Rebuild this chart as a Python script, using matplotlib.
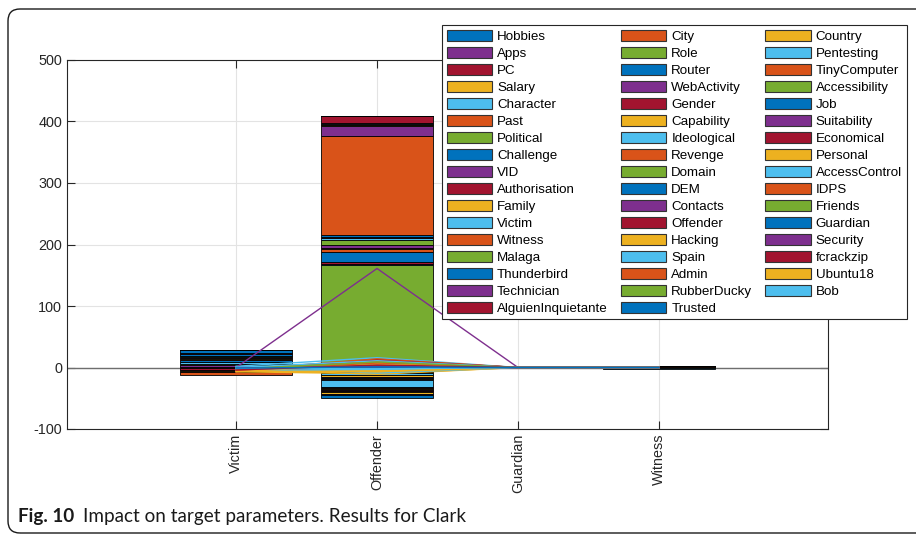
import matplotlib
matplotlib.use("Agg")
import matplotlib.pyplot as plt
import numpy as np
from matplotlib.patches import Patch, FancyBboxPatch
from matplotlib.transforms import IdentityTransform

# ---------------- data ----------------
categories = ["Victim", "Offender", "Guardian", "Witness"]

names = ["Hobbies", "City", "Country", "Apps", "Role", "Pentesting", "PC", "Router",
         "TinyComputer", "Salary", "WebActivity", "Accessibility", "Character", "Gender",
         "Job", "Past", "Capability", "Suitability", "Political", "Ideological",
         "Economical", "Challenge", "Revenge", "Personal", "VID", "Domain", "AccessControl",
         "Authorisation", "DEM", "IDPS", "Family", "Contacts", "Friends", "Victim",
         "Offender", "Guardian", "Witness", "Hacking", "Security", "Malaga", "Spain",
         "fcrackzip", "Thunderbird", "Admin", "Ubuntu18", "Technician", "RubberDucky",
         "Bob", "AlguienInquietante", "Trusted"]

# stacked bar values (one entry per series)
victim_vals = [1.5, 0, 0, 3, 2, 3, -4, 2, 2, 2,
               2, 2, 0, -1.5, 2, 0, -2, 2, 0, 0,
               0, 5.5, -4.5, 0, 0, 0, 0, 0, 0, 0,
               0, 0, 0, 0, 0, 0, 0, 0, 0, 0,
               0, 0, 0, 0, 0, 0, 0, 0, 0, 0]
offender_vals = [-2, -1.5, -2, -2, 166, 3, 3, 15, 5, 3,
                 4, 9, 3, 2, 3, 161, -2, 16, 1, -2,
                 -1.5, 1, 1, -2, -2, 0, 1.5, 11, -2, -2,
                 0, 0, 0, -10, 0, -2, -2, -2, -2, 0,
                 0, -1.5, 0, 0, -2, -2, 0, 0, 0, -5.5]
guardian_vals = [0, 0, 0, 0, 0, 0, 0, 0, 0, 0,
                 0, 0, 0, 0, 0, 0, 0, 0, 0, 0,
                 0, 0, 0, 0, 0, 0, 0, 0, 0, 0,
                 0, 0, 0, 0, 0, 1, 0, 0, 0, 0,
                 0, 0, 1, 0, 0, 0, 0, 0, 0, 0]
witness_vals = [0, 0, 0, 0, 0, 0, 0, 0, 0, 0,
                0, 0, 0, 0, 0, 0, 0, 0, 0, 0,
                0, 0, 0, 0, 0, 0, 0, 0, 0, 0,
                1, 0, 0, 0, -1, 0, 1.5, 0, 0, 0,
                -1, 0, 0, 0, 0, 0, 0, 0, 0, 0]

# overlaid line values (one entry per series)
line_victim = [-2, -6, 1, 0, -3, 2, -5, -1, -4, -7,
               -2, -3, 1, -6, -1, -4, -5, 0, -2, -3,
               -7, -1, -5, -3, 0, -2, 1, -4, -1, -6,
               -3, -2, -1, -5, -4, 0, -2, -6, -3, -1,
               0, -4, -2, -5, -7, -1, -3, -2, -4, -1]
line_offender = [6, 12, -8, 3, 9, 16, 11, 2, 14, -10,
                 5, 7, -4, 10, 0, 13, -6, 4, 8, 1,
                 12, -2, 9, -11, 161, 6, -9, 3, 5, 10,
                 -5, 2, 7, -3, 4, 1, 8, -7, 0, 6,
                 11, 3, -1, 7, 5, 2, 9, -2, 4, 1]
line_guardian = [0] * 50
line_witness = [0] * 50

palette = ["#0072BD", "#D95319", "#EDB120", "#7E2F8E", "#77AC30", "#4DBEEE", "#A2142F"]

# ---------------- figure ----------------
plt.rcParams["font.family"] = ["Liberation Sans", "DejaVu Sans"]
plt.rcParams["axes.unicode_minus"] = False
W, H = 916, 534
fig = plt.figure(figsize=(W / 100, H / 100), dpi=100)

# rounded outer frame
frame = FancyBboxPatch((8, 1), 940, 524, boxstyle="round,pad=0,rounding_size=12",
                       transform=IdentityTransform(), facecolor="none",
                       edgecolor="#1a1a1a", linewidth=1.0)
fig.add_artist(frame)

ax = fig.add_axes([67 / W, 1 - 429 / H, 761 / W, 369 / H])

x = np.arange(1, len(categories) + 1)
data = np.array([victim_vals, offender_vals, guardian_vals, witness_vals]).T  # series x cat

pos_base = np.zeros(len(categories))
neg_base = np.zeros(len(categories))
handles = []
for i, name in enumerate(names):
    vals = data[i]
    col = palette[i % 7]
    bottoms = np.where(vals >= 0, pos_base, neg_base)
    ax.bar(x, vals, width=0.8, bottom=bottoms, color=col, edgecolor="black",
           linewidth=0.6, zorder=3)
    pos_base = pos_base + np.where(vals > 0, vals, 0)
    neg_base = neg_base + np.where(vals < 0, vals, 0)
    handles.append(Patch(facecolor=col, edgecolor="#333333", linewidth=0.8, label=name))

lines = np.array([line_victim, line_offender, line_guardian, line_witness]).T
for i in range(len(names)):
    ax.plot(x, lines[i], color=palette[i % 7], linewidth=1.0, zorder=4)

ax.axhline(0, color="#6e6e6e", linewidth=1.0, zorder=2.5)

ax.set_xlim(-0.2, 5.2)
ax.set_ylim(-100, 500)
ax.set_yticks(np.arange(-100, 501, 100))
ax.set_xticks(x)
ax.set_xticklabels(categories, rotation=90, fontsize=10.4, color="#262626")
ax.tick_params(axis="y", labelsize=10.4, colors="#262626")
ax.tick_params(direction="in", length=5.5, width=0.8, top=True, right=True, color="#262626")
ax.grid(True, color="#e3e3e3", linewidth=0.8, zorder=0)
ax.set_axisbelow(True)
for s in ax.spines.values():
    s.set_color("#262626")
    s.set_linewidth(0.8)

# legend (row-major order, 3 columns)
ncol = 3
nrow = int(np.ceil(len(names) / ncol))
order = [r * ncol + c for c in range(ncol) for r in range(nrow) if r * ncol + c < len(names)]
leg = fig.legend([handles[k] for k in order], [names[k] for k in order],
                 loc="upper left", bbox_to_anchor=(442 / W, 1 - 25 / H),
                 bbox_transform=fig.transFigure, ncol=ncol, fontsize=9.6,
                 frameon=True, fancybox=False, framealpha=1, edgecolor="#262626",
                 handlelength=3.4, handleheight=0.9, handletextpad=0.38,
                 columnspacing=0.98, labelspacing=0.29, borderpad=0.35, borderaxespad=0)
leg.get_frame().set_linewidth(0.8)
leg.set_zorder(10)

# caption
cap_y = 1 - 522 / H
t1 = fig.text(18 / W, cap_y, "Fig. 10", fontsize=13.6, fontweight="bold",
              family=["Lato", "DejaVu Sans"], color="#1a1a1a")
fig.canvas.draw()
bb = t1.get_window_extent()
fig.text((bb.x1 + 9) / W, cap_y, "Impact on target parameters. Results for Clark",
         fontsize=13.6, family=["Lato", "DejaVu Sans"], color="#1a1a1a")

fig.savefig("out.png", dpi=100)
